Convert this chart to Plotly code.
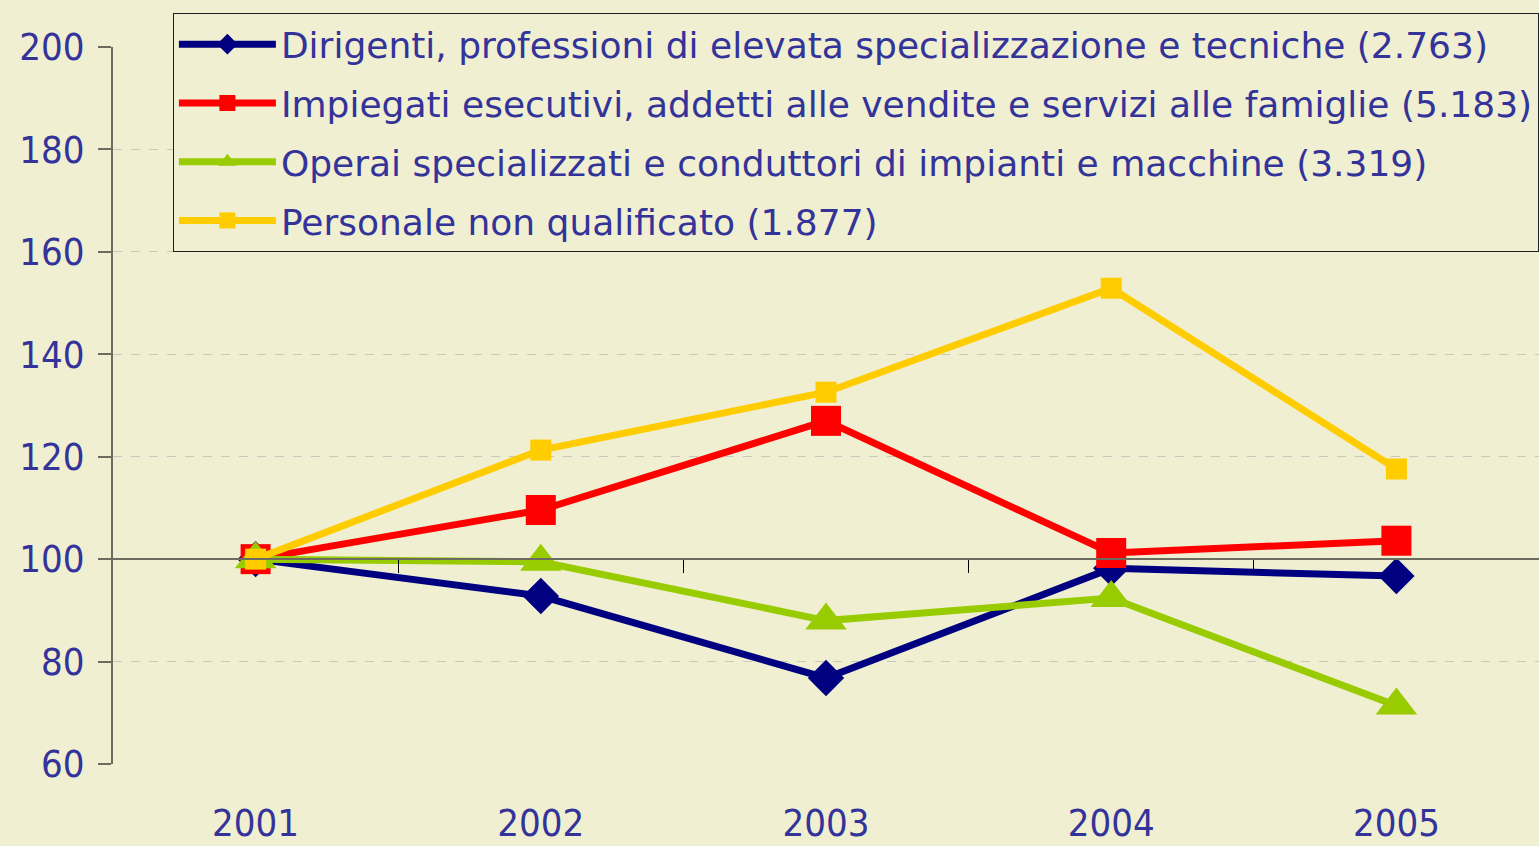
import plotly.graph_objects as go

years = ["2001", "2002", "2003", "2004", "2005"]
names = [
    "Dirigenti, professioni di elevata specializzazione e tecniche (2.763)",
    "Impiegati esecutivi, addetti alle vendite e servizi alle famiglie (5.183)",
    "Operai specializzati e conduttori di impianti e macchine (3.319)",
    "Personale non qualificato (1.877)",
]
dirigenti = [100, 92.8, 76.8, 98.2, 96.7]
impiegati = [100, 109.6, 127.0, 101.2, 103.6]
operai = [100, 99.5, 88.0, 92.4, 71.4]
personale = [100, 121.3, 132.6, 152.9, 117.6]

series = [dirigenti, impiegati, operai, personale]
colors = ["#000080", "#FF0000", "#99CC00", "#FFCC00"]
symbols = ["diamond", "square", "triangle-up", "square"]
sizes = [28, 30, 36, 21]

BG = "#F0EFD1"
TXT = "#333399"
AX = "#6B6B60"
FONT = "DejaVu Sans Condensed"

fig = go.Figure()
for i, (nm, vals, c, s, sz) in enumerate(zip(names, series, colors, symbols, sizes)):
    fig.add_trace(go.Scatter(
        x=years, y=vals, name=nm, mode="lines+markers",
        legendgroup=f"g{i}",
        line=dict(color=c, width=7),
        marker=dict(color=c, symbol=s, size=sz, line=dict(width=0)),
        cliponaxis=False,
    ))

# invisible trace to host the y=100 crossing axis
fig.add_trace(go.Scatter(
    x=list(range(len(years))), y=dirigenti, xaxis="x2", mode="markers",
    marker=dict(opacity=0), showlegend=False, hoverinfo="skip",
))

fig.update_layout(
    width=1539, height=846,
    paper_bgcolor=BG, plot_bgcolor=BG,
    margin=dict(l=113, r=0, t=47, b=82, autoexpand=False),
    font=dict(family=FONT, size=38, color=TXT),
    showlegend=True,
    legend=dict(
        x=0.042, y=1.047, xanchor="left", yanchor="top",
        bgcolor=BG, bordercolor="#202020", borderwidth=1,
        font=dict(family="DejaVu Sans", size=36, color=TXT),
        itemwidth=97, tracegroupgap=9,
        entrywidth=1255, entrywidthmode="pixels",
    ),
    xaxis=dict(
        type="category", range=[-0.5, 4.5], automargin=False,
        showgrid=False, zeroline=False, showline=False,
        ticks="", ticklabelstandoff=33,
        tickfont=dict(family=FONT, size=38, color=TXT),
    ),
    xaxis2=dict(
        overlaying="x", anchor="free", position=(100 - 60) / (200 - 60),
        range=[-0.5, 4.5], showline=True, linecolor=AX, linewidth=2,
        showgrid=False, zeroline=False, showticklabels=False, automargin=False,
        ticks="outside", ticklen=13, tickcolor="#000000", tickwidth=1,
        tickvals=[0.5, 1.5, 2.5, 3.5],
    ),
    yaxis=dict(
        range=[60, 200], dtick=20, tick0=60, automargin=False,
        showline=True, linecolor=AX, linewidth=2,
        ticks="outside", ticklen=13, tickcolor=AX, tickwidth=2,
        showgrid=True, gridcolor="#C8C8C0", griddash="dash", gridwidth=1,
        zeroline=False, ticklabelstandoff=6,
        tickfont=dict(family=FONT, size=38, color=TXT),
    ),
)

fig.write_html(
    "out.html",
    config={"displayModeBar": False},
    post_script="document.body.style.margin='0';document.body.style.padding='0';document.body.style.background='" + BG + "';",
)
